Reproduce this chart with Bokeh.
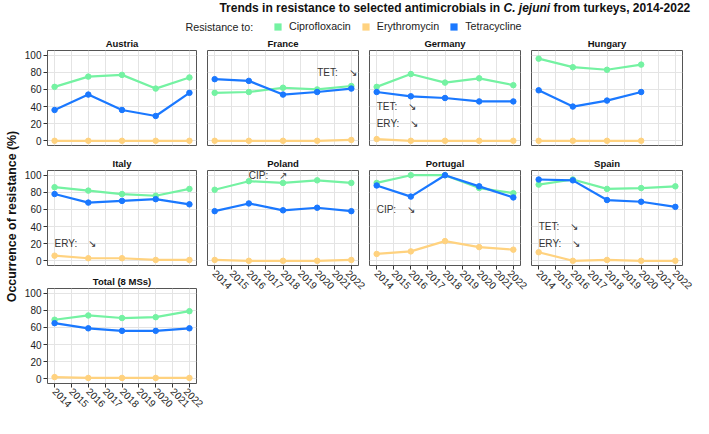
import math
from bokeh.plotting import figure
from bokeh.layouts import column, row
from bokeh.models import Range1d, FixedTicker, Label, Legend, LegendItem, ColumnDataSource
from bokeh.core.properties import value
from bokeh.embed import file_html
from bokeh.resources import INLINE

# ---------------- data ----------------
years = [2014, 2016, 2018, 2020, 2022]
years_hungary = [2014, 2016, 2018, 2020]
tick_years = [2014, 2015, 2016, 2017, 2018, 2019, 2020, 2021, 2022]
tick_pct = [0, 20, 40, 60, 80, 100]

austria_cip = [63, 75, 77, 61, 74]
austria_ery = [0, 0, 0, 0, 0]
austria_tet = [36, 54, 36, 29, 56]
france_cip = [56, 57, 62, 60, 64]
france_ery = [0, 0, 0, 0, 1]
france_tet = [72, 70, 54, 57, 61]
germany_cip = [63, 78, 68, 73, 65]
germany_ery = [2, 0, 0, 0, 0]
germany_tet = [57, 52, 50, 46, 46]
hungary_cip = [96, 86, 83, 89]
hungary_ery = [0, 0, 0, 0]
hungary_tet = [59, 40, 47, 57]
italy_cip = [86, 82, 78, 76, 84]
italy_ery = [6, 3, 3, 1, 1]
italy_tet = [78, 68, 70, 72, 66]
poland_cip = [83, 93, 91, 94, 91]
poland_ery = [1, 0, 0, 0, 1]
poland_tet = [58, 67, 59, 62, 58]
portugal_cip = [91, 100, 100, 85, 79]
portugal_ery = [8, 11, 23, 16, 13]
portugal_tet = [88, 75, 100, 87, 74]
spain_cip = [89, 95, 84, 85, 87]
spain_ery = [10, 0, 1, 0, 0]
spain_tet = [95, 94, 71, 69, 63]
total_cip = [69, 74, 71, 72, 79]
total_ery = [2, 1, 1, 1, 1]
total_tet = [65, 59, 56, 56, 59]

series_names = ["Ciprofloxacin", "Erythromycin", "Tetracycline"]
series_colors = ["#74F2A2", "#FFD27F", "#1A78FF"]

ann_panel = ["France", "Germany", "Germany", "Italy", "Poland", "Portugal", "Spain", "Spain"]
ann_x = [2020, 2014, 2014, 2014, 2016, 2014, 2014, 2014]
ann_y = [80, 40, 20, 20, 100, 60, 40, 20]
ann_label = ["TET:", "TET:", "ERY:", "ERY:", "CIP:", "CIP:", "TET:", "ERY:"]
ann_arrow = ["\u2198", "\u2198", "\u2198", "\u2198", "\u2197", "\u2198", "\u2198", "\u2198"]

FONT = "Liberation Sans"
GRID = "#E4E4E4"
BORDER = "#555555"
INK = "#222222"
NAN = float("nan")


def make_panel(name, yrs, cip, ery, tet, width, height, bl, br, bt, bb,
               show_x, show_y):
    p = figure(width=width, height=height,
               x_range=Range1d(2013.58, 2022.42), y_range=Range1d(-5.5, 105.5),
               min_border_left=bl, min_border_right=br,
               min_border_top=bt, min_border_bottom=bb,
               x_axis_location="below" if show_x else None,
               y_axis_location="left" if show_y else None,
               toolbar_location=None, output_backend="svg", title=name)
    p.title.align = "center"
    p.title.text_font = FONT
    p.title.text_font_size = "9.5px"
    p.title.text_font_style = "bold"
    p.title.text_color = "#111111"
    p.title.standoff = 3
    p.outline_line_color = BORDER
    p.outline_line_width = 1
    p.background_fill_color = "white"
    p.border_fill_color = "white"
    p.xgrid.ticker = FixedTicker(ticks=tick_years)
    p.ygrid.ticker = FixedTicker(ticks=tick_pct)
    p.xgrid.grid_line_color = GRID
    p.ygrid.grid_line_color = GRID
    if show_x:
        ax = p.xaxis[0]
        ax.ticker = FixedTicker(ticks=tick_years)
        ax.major_label_orientation = -math.pi / 4
        ax.major_label_text_font = FONT
        ax.major_label_text_font_size = "10px"
        ax.major_label_text_color = INK
        ax.major_label_standoff = 2
        ax.major_tick_out = 4
        ax.major_tick_in = 0
        ax.minor_tick_out = 0
        ax.minor_tick_in = 0
        ax.major_tick_line_color = "#333333"
        ax.axis_line_color = None
    if show_y:
        ay = p.yaxis[0]
        ay.ticker = FixedTicker(ticks=tick_pct)
        ay.major_label_text_font = FONT
        ay.major_label_text_font_size = "10px"
        ay.major_label_text_color = INK
        ay.major_label_standoff = 2
        ay.major_tick_out = 4
        ay.major_tick_in = 0
        ay.minor_tick_out = 0
        ay.minor_tick_in = 0
        ay.major_tick_line_color = "#333333"
        ay.axis_line_color = None
    for vals, col in zip([cip, ery, tet], series_colors):
        src = ColumnDataSource(dict(x=yrs, y=vals))
        p.line("x", "y", source=src, line_color=col, line_width=2.2)
        p.scatter("x", "y", source=src, fill_color=col, line_color=col, size=5.5)
    idx = [i for i, n in enumerate(ann_panel) if n == name]
    if idx:
        asrc = ColumnDataSource(dict(
            x=[ann_x[i] for i in idx], y=[ann_y[i] for i in idx],
            t=[ann_label[i] + "\u00a0\u00a0\u00a0\u00a0" + ann_arrow[i] for i in idx]))
        p.text("x", "y", text="t", source=asrc, text_font=value(FONT),
               text_font_size="10px", text_color="#333333",
               text_align="left", text_baseline="middle")
    return p


def blank(width, height):
    f = figure(width=width, height=height, x_range=Range1d(0, width), y_range=Range1d(0, height),
               min_border_left=0, min_border_right=0, min_border_top=0, min_border_bottom=0,
               x_axis_location=None, y_axis_location=None, title=None,
               toolbar_location=None, output_backend="svg")
    f.outline_line_color = None
    f.xgrid.visible = False
    f.ygrid.visible = False
    return f


# ---------------- header (title + legend) ----------------
HW, HH = 693, 34
hdr = blank(HW, HH)
TFS = 12.0
ty = 27
xi = 503.0               # start of the italic species name
w_space = 0.278 * TFS
w_ital = 3.890 * TFS
hdr.add_layout(Label(x=xi - w_space, y=ty, text="Trends in resistance to selected antimicrobials in",
                     text_font=FONT, text_font_size=f"{TFS}px", text_font_style="bold",
                     text_align="right", text_baseline="middle", text_color="#111111"))
hdr.add_layout(Label(x=xi, y=ty, text="C. jejuni",
                     text_font=FONT, text_font_size=f"{TFS}px", text_font_style="bold italic",
                     text_align="left", text_baseline="middle", text_color="#111111"))
hdr.add_layout(Label(x=xi + w_ital, y=ty, text="\u00a0from turkeys, 2014-2022",
                     text_font=FONT, text_font_size=f"{TFS}px", text_font_style="bold",
                     text_align="left", text_baseline="middle", text_color="#111111"))
hdr.add_layout(Label(x=185, y=8, text="Resistance to:",
                     text_font=FONT, text_font_size="10.7px",
                     text_align="left", text_baseline="middle", text_color=INK))

items = []
for nm, col in zip(series_names, series_colors):
    r = hdr.quad(left=[NAN], right=[NAN], top=[NAN], bottom=[NAN],
                 fill_color=col, line_color=None)
    items.append(LegendItem(label=nm, renderers=[r]))
leg = Legend(items=items, orientation="horizontal", location=(273, 2),
             glyph_width=9, glyph_height=9, label_standoff=7, spacing=10,
             padding=0, margin=0, border_line_color=None, background_fill_alpha=0,
             label_text_font=FONT, label_text_font_size="10.7px",
             label_text_color=INK, label_height=12)
hdr.add_layout(leg)

# ---------------- y axis title ----------------
YW, YH = 21, 383
ylab = blank(YW, YH)
ylab.add_layout(Label(x=11, y=201, text="Occurrence of resistance (%)", angle=math.pi / 2,
                      text_font=FONT, text_font_size="12.4px", text_font_style="bold",
                      text_align="center", text_baseline="middle", text_color="#111111"))

# ---------------- panels ----------------
FW = 151
austria = make_panel("Austria", years, austria_cip, austria_ery, austria_tet,
                     24 + FW + 8, 120, 24, 8, 14, 9, False, True)
italy = make_panel("Italy", years, italy_cip, italy_ery, italy_tet,
                   24 + FW + 8, 118, 24, 8, 14, 7, False, True)
total = make_panel("Total (8 MSs)", years, total_cip, total_ery, total_tet,
                   24 + FW + 8, 145, 24, 8, 14, 34, True, True)
france = make_panel("France", years, france_cip, france_ery, france_tet,
                    3 + FW + 8, 120, 3, 8, 14, 9, False, False)
poland = make_panel("Poland", years, poland_cip, poland_ery, poland_tet,
                    3 + FW + 8, 145, 3, 8, 14, 34, True, False)
germany = make_panel("Germany", years, germany_cip, germany_ery, germany_tet,
                     3 + FW + 8, 120, 3, 8, 14, 9, False, False)
portugal = make_panel("Portugal", years, portugal_cip, portugal_ery, portugal_tet,
                      3 + FW + 8, 145, 3, 8, 14, 34, True, False)
hungary = make_panel("Hungary", years_hungary, hungary_cip, hungary_ery, hungary_tet,
                     3 + FW + 11, 120, 3, 11, 14, 9, False, False)
spain = make_panel("Spain", years, spain_cip, spain_ery, spain_tet,
                   3 + FW + 11, 145, 3, 11, 14, 34, True, False)

grid = row(ylab,
           column(austria, italy, total, spacing=0),
           column(france, poland, spacing=0),
           column(germany, portugal, spacing=0),
           column(hungary, spain, spacing=0), spacing=0)
layout = column(hdr, grid, spacing=0)

open("out.html", "w").write(file_html(layout, INLINE))
